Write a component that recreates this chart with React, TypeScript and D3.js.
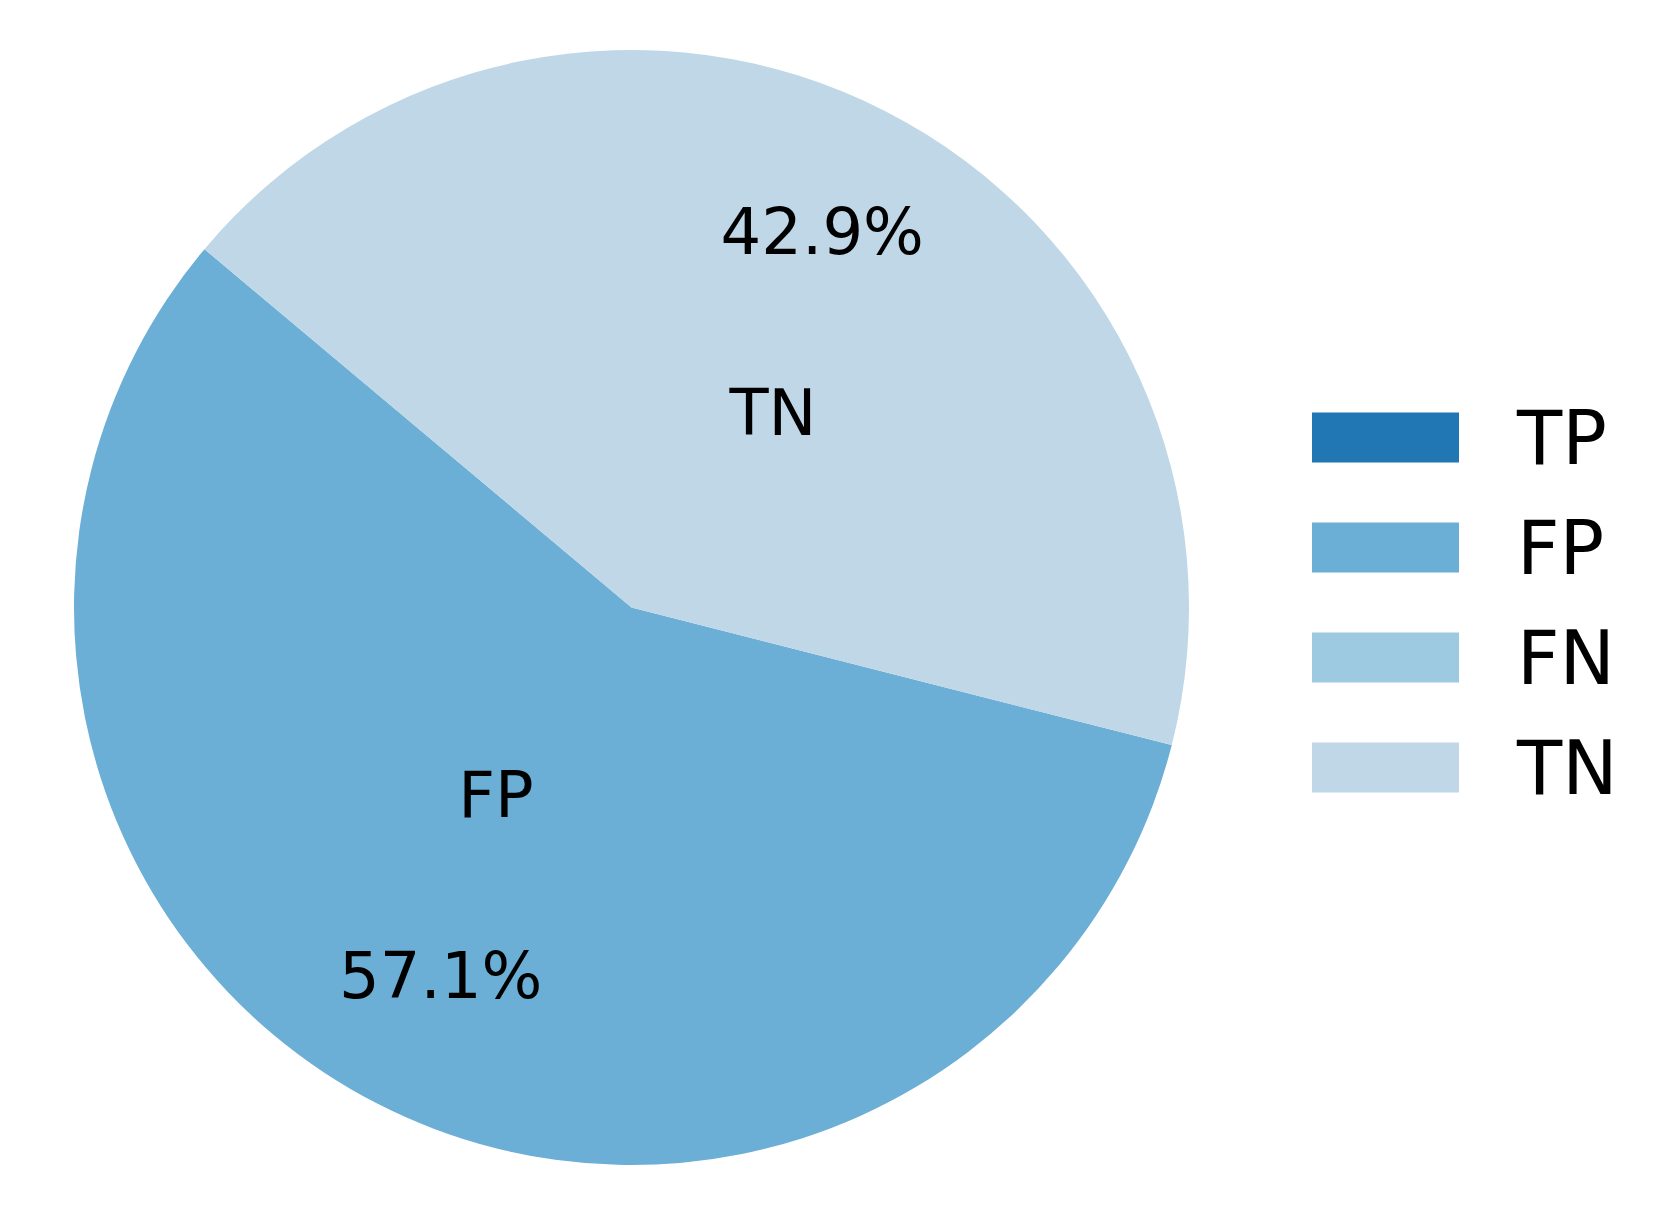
import React from "react";
import * as d3 from "d3";

const categories = ["TP", "FP", "FN", "TN"];
const values = [0, 4, 0, 3];
const colors = ["#2077b4", "#6baed6", "#9ecae1", "#bfd7e6"];

const W = 1662;
const H = 1216;
const cx = 631.5;
const cy = 607.5;
const R = 557.5;
const startDeg = 140; // matplotlib startangle, counterclockwise
const FONT = "'DejaVu Sans', sans-serif";

export default function App() {
  const toD3 = (deg: number) => ((90 - deg) * Math.PI) / 180;
  const pie = d3
    .pie<number>()
    .sort(null)
    .value((d) => d)
    .startAngle(toD3(startDeg))
    .endAngle(toD3(startDeg) - 2 * Math.PI);
  const arcs = pie(values);
  const arc = d3.arc<d3.PieArcDatum<number>>().innerRadius(0).outerRadius(R);
  const total = d3.sum(values);

  const legendX = 1312;
  const legendY0 = 437.5;
  const legendStep = 110;

  return (
    <svg
      width={W}
      height={H}
      style={{ position: "absolute", left: 0, top: 0, background: "#fff" }}
    >
      <g transform={`translate(${cx},${cy})`}>
        {arcs.map((a, i) =>
          a.value > 0 ? (
            <path key={i} d={arc(a) || ""} fill={colors[i]} />
          ) : null
        )}
        {arcs.map((a, i) => {
          if (a.value <= 0) return null;
          const mid = (a.startAngle + a.endAngle) / 2;
          const lx = Math.sin(mid) * R * 0.385;
          const ly = -Math.cos(mid) * R * 0.385;
          const px = Math.sin(mid) * R * 0.75;
          const py = -Math.cos(mid) * R * 0.75;
          const pct = ((a.value / total) * 100).toFixed(1) + "%";
          return (
            <g key={"t" + i} fontFamily={FONT} fontSize={64} fill="#000">
              <text x={lx} y={ly + 18.5} textAnchor={lx > 0 ? "start" : "end"}>
                {categories[i]}
              </text>
              <text x={px} y={py + 18.5} textAnchor="middle">
                {pct}
              </text>
            </g>
          );
        })}
      </g>
      <g fontFamily={FONT} fontSize={74} fill="#000">
        {categories.map((c, i) => {
          const yc = legendY0 + i * legendStep;
          return (
            <g key={c}>
              <rect x={legendX} y={yc - 25} width={147} height={50} fill={colors[i]} />
              <text x={1517} y={yc + 26}>
                {c}
              </text>
            </g>
          );
        })}
      </g>
    </svg>
  );
}
